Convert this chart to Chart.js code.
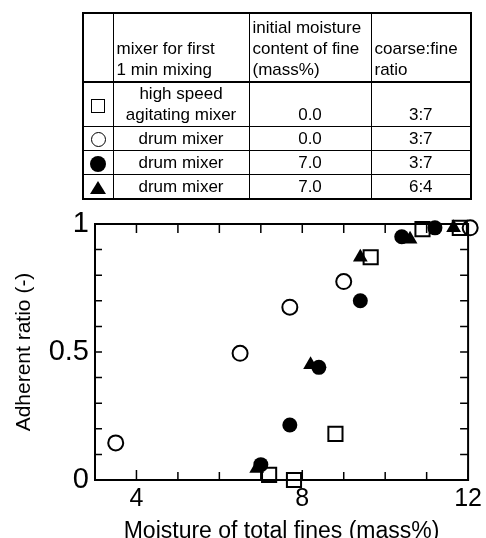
<!DOCTYPE html>
<html>
<head>
<meta charset="utf-8">
<script src="https://cdn.jsdelivr.net/npm/chart.js@4.4.1/dist/chart.umd.min.js"></script>
<style>
    html, body {
        margin: 0;
        padding: 0;
        width: 486px;
        height: 538px;
        overflow: hidden;
        background: #fff;
        font-family: 'Liberation Sans', Arial, sans-serif;
    }
    #chart {
        position: absolute;
        left: 0;
        top: 0;
    }
    #legend {
        position: absolute;
        left: 82px;
        top: 12px;
        width: 388px;
        border-collapse: collapse;
        border: 2px solid #000;
        font-size: 17px;
        color: #000;
        table-layout: fixed;
    }
    #legend td, #legend th {
        border: 1px solid #000;
        padding: 0 3px 1px 3px;
        line-height: 21px;
        font-weight: normal;
    }
    #legend th {
        text-align: left;
        vertical-align: bottom;
        height: 66px;
        border-bottom: 2px solid #000;
    }
    #legend td {
        text-align: center;
        vertical-align: bottom;
        height: 22px;
    }
    #legend td.sym {
        vertical-align: middle;
        padding: 0;
    }
    .mk { display: inline-block; box-sizing: border-box; vertical-align: middle; }
    .mk.square { width: 14px; height: 14px; border: 1.5px solid #000; }
    .mk.circle { width: 15px; height: 15px; border: 1.5px solid #000; border-radius: 50%; }
    .mk.dot { width: 16px; height: 16px; background: #000; border-radius: 50%; }
    .mk.tri { width: 0; height: 0; border-left: 8px solid transparent; border-right: 8px solid transparent; border-bottom: 13px solid #000; }
</style>
</head>
<body>
<canvas id="chart" width="486" height="545"></canvas>
<table id="legend">
    <colgroup>
        <col style="width:30px"><col style="width:136px"><col style="width:122px"><col style="width:100px">
    </colgroup>
    <tbody id="legendBody"></tbody>
</table>
<script>
// Legend table
const headers = ['', 'mixer for first<br>1 min mixing', 'initial moisture<br>content of fine<br>(mass%)', 'coarse:fine<br>ratio'];
const markerClasses = ['square', 'circle', 'dot', 'tri'];
const mixers = ['high speed<br>agitating mixer', 'drum mixer', 'drum mixer', 'drum mixer'];
const moistures = ['0.0', '0.0', '7.0', '7.0'];
const ratios = ['3:7', '3:7', '3:7', '6:4'];

// Scatter data: moisture of total fines (x) vs adherent ratio (y)
const squareX = [7.2, 7.8, 8.8, 9.65, 10.9, 11.8];
const squareY = [0.02, 0.0, 0.18, 0.87, 0.98, 0.985];
const circleX = [3.5, 6.5, 7.7, 9.0, 12.05];
const circleY = [0.145, 0.495, 0.675, 0.775, 0.985];
const dotX = [7.0, 7.7, 8.4, 9.4, 10.4, 11.2];
const dotY = [0.06, 0.215, 0.44, 0.70, 0.95, 0.985];
const triX = [6.9, 8.2, 9.4, 10.6, 11.65];
const triY = [0.045, 0.45, 0.87, 0.94, 0.985];

// Axis ticks
const xTickLabels = [4, 8, 12];
const yTickLabels = [0, 0.5, 1];

function buildLegend() {
    const body = document.getElementById('legendBody');
    let html = '<tr>' + headers.map(h => `<th>${h}</th>`).join('') + '</tr>';
    mixers.forEach((m, i) => {
        const tall = i === 0 ? ' style="height:44px"' : '';
        html += `<tr${tall}><td class="sym"><span class="mk ${markerClasses[i]}"></span></td>` +
            `<td>${m}</td><td>${moistures[i]}</td><td>${ratios[i]}</td></tr>`;
    });
    body.innerHTML = html;
}

const points = (xs, ys) => xs.map((x, i) => ({ x, y: ys[i] }));
const near = (list, v) => list.find(t => Math.abs(t - v) < 1e-6);

// Frame with inward ticks on all four sides
const frameTicks = {
    id: 'frameTicks',
    beforeDatasetsDraw(chart) {
        const { ctx, chartArea: a, scales: { x, y } } = chart;
        ctx.save();
        ctx.strokeStyle = '#000';
        ctx.lineWidth = 2;
        ctx.strokeRect(a.left, a.top, a.right - a.left, a.bottom - a.top);
        ctx.lineWidth = 1.5;
        ctx.beginPath();
        x.ticks.forEach(t => {
            const px = x.getPixelForValue(t.value);
            const len = near(xTickLabels, t.value) !== undefined ? 10 : 8;
            ctx.moveTo(px, a.bottom); ctx.lineTo(px, a.bottom - len);
            ctx.moveTo(px, a.top); ctx.lineTo(px, a.top + 9);
        });
        y.ticks.forEach(t => {
            const py = y.getPixelForValue(t.value);
            ctx.moveTo(a.left, py); ctx.lineTo(a.left + 7, py);
            ctx.moveTo(a.right, py); ctx.lineTo(a.right - 8, py);
        });
        ctx.stroke();
        ctx.restore();
    }
};

function initChart() {
    const ctx = document.getElementById('chart');
    const base = { borderColor: '#000', borderWidth: 2, backgroundColor: 'transparent', clip: false };
    return new Chart(ctx, {
        type: 'scatter',
        data: {
            datasets: [
                { ...base, label: 'high speed agitating mixer', data: points(squareX, squareY), pointStyle: 'rect', pointRadius: 10 },
                { ...base, label: 'drum mixer 0.0', data: points(circleX, circleY), pointStyle: 'circle', pointRadius: 7.5 },
                { ...base, label: 'drum mixer 7.0 3:7', data: points(dotX, dotY), pointStyle: 'circle', pointRadius: 7.5, borderWidth: 0, backgroundColor: '#000' },
                { ...base, label: 'drum mixer 7.0 6:4', data: points(triX, triY), pointStyle: 'triangle', pointRadius: 8.5, borderWidth: 0, backgroundColor: '#000' }
            ]
        },
        options: {
            responsive: false,
            animation: false,
            events: [],
            layout: { padding: { top: 224, right: 16, left: 0, bottom: 0 } },
            plugins: { legend: { display: false }, tooltip: { enabled: false } },
            scales: {
                x: {
                    type: 'linear',
                    min: 3,
                    max: 12,
                    grid: { display: false, drawTicks: false },
                    border: { display: false },
                    afterFit: s => { s.height = 65; },
                    ticks: {
                        stepSize: 1,
                        autoSkip: false,
                        maxRotation: 0,
                        padding: 4,
                        color: '#000',
                        font: { family: "'Liberation Sans', Arial", size: 25 },
                        callback: v => { const t = near(xTickLabels, v); return t === undefined ? '' : String(t); }
                    },
                    title: {
                        display: true,
                        text: 'Moisture of total fines (mass%)',
                        color: '#000',
                        padding: 0,
                        font: { family: "'Liberation Sans', Arial", size: 23 }
                    }
                },
                y: {
                    type: 'linear',
                    min: 0,
                    max: 1,
                    grid: { display: false, drawTicks: false },
                    border: { display: false },
                    afterFit: s => { s.width = 95; },
                    ticks: {
                        stepSize: 0.1,
                        autoSkip: false,
                        padding: 6,
                        color: '#000',
                        font: { family: "'Liberation Sans', Arial", size: 29 },
                        callback: v => { const t = near(yTickLabels, v); return t === undefined ? '' : String(t); }
                    },
                    title: {
                        display: true,
                        text: 'Adherent ratio (-)',
                        color: '#000',
                        padding: { top: 12, bottom: 0 },
                        font: { family: "'Liberation Sans', Arial", size: 21 }
                    }
                }
            }
        },
        plugins: [frameTicks]
    });
}

buildLegend();
initChart();
</script>
</body>
</html>
